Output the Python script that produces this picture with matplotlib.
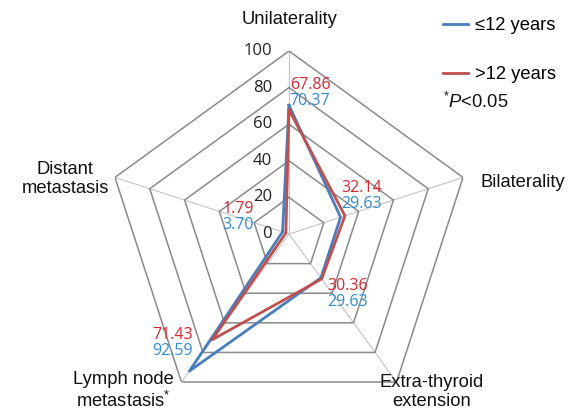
import numpy as np
import matplotlib
matplotlib.use("Agg")
import matplotlib.pyplot as plt
from matplotlib.lines import Line2D

plt.rcParams['font.family'] = ['Liberation Sans', 'DejaVu Sans']
plt.rcParams['mathtext.fontset'] = 'custom'
plt.rcParams['mathtext.rm'] = 'Liberation Sans'
plt.rcParams['mathtext.it'] = 'Liberation Sans:italic'

# data
categories = ["Unilaterality", "Bilaterality", "Extra-thyroid\nextension",
              "Lymph node\nmetastasis$^{*}$", "Distant\nmetastasis"]
young = [70.37, 29.63, 29.63, 92.59, 3.70]   # <=12 years
old = [67.86, 32.14, 30.36, 71.43, 1.79]     # >12 years
series_names = ["\u226412 years", ">12 years"]
ring_levels = [20, 40, 60, 80, 100]
tick_labels = ["0", "20", "40", "60", "80", "100"]

blue = "#4a7ebb"
red = "#c0504d"
blue_txt = "#2f8bd8"
red_txt = "#d9272e"

fig = plt.figure(figsize=(5.71, 4.15), dpi=100)
# center at (289, 234) px, radius 183 px
ax = fig.add_axes([(289 - 183) / 571, (415 - 234 - 183) / 415, 366 / 571, 366 / 415],
                  projection="polar")
ax.set_theta_offset(np.pi / 2)
ax.set_theta_direction(-1)
ax.set_ylim(0, 100)
ax.axis("off")

n = len(categories)
theta = np.linspace(0, 2 * np.pi, n, endpoint=False)
theta_c = np.append(theta, theta[0])

# pentagon grid
for lv in ring_levels:
    ax.plot(theta_c, [lv] * (n + 1), color="#8a8a8a", lw=1.1, zorder=1)
for t in theta:
    ax.plot([t, t], [0, 100], color="#c4c4c4", lw=0.8, zorder=0)

# radial tick labels
for i, lab in enumerate(tick_labels):
    ax.annotate(lab, xy=(0, i * 20), xytext=(-17, 0), textcoords="offset pixels",
                ha="right", va="center", fontsize=12, color="#222222",
                annotation_clip=False, family="Open Sans")

# series
ax.plot(theta_c, young + young[:1], color=blue, lw=2.0, zorder=3)
ax.plot(theta_c, old + old[:1], color=red, lw=2.0, zorder=4)

# value labels (pixel positions of the two-line blocks)
val_pos = [(310, 85), (362, 188), (348, 286), (173, 335), (238, 209)]
for (px, py), o, y in zip(val_pos, old, young):
    fig.text(px / 571, 1 - py / 415, f"{o:.2f}", color=red_txt, fontsize=11.5,
             ha="center", va="center", family="Open Sans")
    fig.text(px / 571, 1 - (py + 16) / 415, f"{y:.2f}", color=blue_txt, fontsize=11.5,
             ha="center", va="center", family="Open Sans")

# category labels
cat_pos = [(290, 20), (523, 182), (432, 392), (123, 391), (65, 179)]
for lab, (px, py) in zip(categories, cat_pos):
    fig.text(px / 571, 1 - py / 415, lab, fontsize=13.2, ha="center", va="center",
             linespacing=1.2, color="#111111")

# legend
handles = [Line2D([0], [0], color=blue, lw=2.0), Line2D([0], [0], color=red, lw=2.0)]
fig.legend(handles, series_names, loc="upper left", bbox_to_anchor=(426 / 571, 1 - 1 / 415),
           frameon=False, fontsize=13.2, labelspacing=1.72, handlelength=1.4,
           handletextpad=0.35)
fig.text(443 / 571, 1 - 102 / 415, r"$^{*}\mathit{P}$<0.05", fontsize=13.2,
         ha="left", va="center", color="#111111")

fig.savefig("out.png", dpi=100)
